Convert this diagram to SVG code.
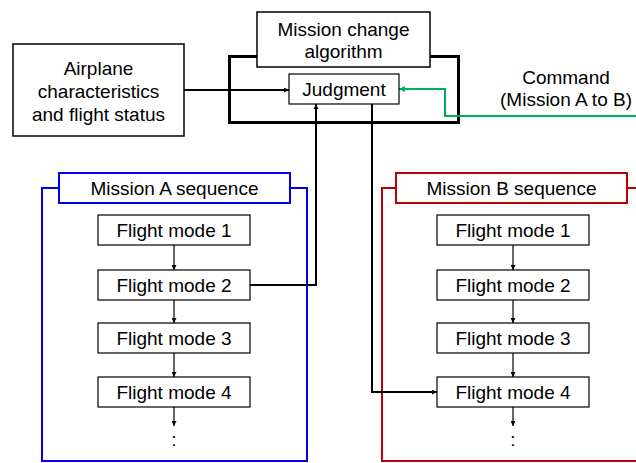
<svg xmlns="http://www.w3.org/2000/svg" width="636" height="463" viewBox="0 0 636 463">
<defs>
<style>
text{font-family:"Liberation Sans",Arial,sans-serif;font-size:19px;fill:#000;text-anchor:middle}
.box{fill:#fff;stroke:#000;stroke-width:1.5}
.fm{fill:#fff;stroke:#000;stroke-width:1.2}
.ln{fill:none;stroke:#000;stroke-width:2}
.thin{fill:none;stroke:#000;stroke-width:1.2}
</style>
<marker id="ah" viewBox="0 0 10 10" refX="10" refY="5" markerWidth="5" markerHeight="5" orient="auto" markerUnits="userSpaceOnUse"><path d="M0,0L10,5L0,10z" fill="#000"/></marker>
<marker id="ahg" viewBox="0 0 10 10" refX="10" refY="5" markerWidth="6" markerHeight="6" orient="auto" markerUnits="userSpaceOnUse"><path d="M0,0L10,5L0,10z" fill="#00b050"/></marker>
</defs>
<rect width="636" height="463" fill="#fff"/>
<g id="algorithm-frame"><rect x="229.5" y="56.5" width="229" height="66" fill="none" stroke="#000" stroke-width="3"/></g>
<g id="mission-a-frame">
<path d="M59,188H42V461H307V188H290" fill="none" stroke="#0000e6" stroke-width="2"/>
<rect x="59" y="173" width="231" height="30" fill="#fff" stroke="#0000e6" stroke-width="2"/>
<text x="174.5" y="195">Mission A sequence</text>
</g>
<g id="mission-b-frame">
<path d="M396,188H382V461H640M627,188H640" fill="none" stroke="#c00000" stroke-width="2"/>
<rect x="396" y="173" width="231" height="30" fill="#fff" stroke="#c00000" stroke-width="2"/>
<text x="511.5" y="195">Mission B sequence</text>
</g>
<g id="connectors">
<path class="ln" d="M184,90H289" marker-end="url(#ah)"/>
<path class="ln" d="M250,285H316V104" marker-end="url(#ah)"/>
<path class="ln" d="M372,104V392H437" marker-end="url(#ah)"/>
<path d="M636,116H445V89H399" fill="none" stroke="#00b050" stroke-width="2" marker-end="url(#ahg)"/>
<path class="thin" d="M174,245V270" marker-end="url(#ah)"/>
<path class="thin" d="M174,300V323" marker-end="url(#ah)"/>
<path class="thin" d="M174,353V377" marker-end="url(#ah)"/>
<path class="thin" d="M174,407V426" marker-end="url(#ah)"/>
<path class="thin" d="M513,245V270" marker-end="url(#ah)"/>
<path class="thin" d="M513,300V323" marker-end="url(#ah)"/>
<path class="thin" d="M513,353V377" marker-end="url(#ah)"/>
<path class="thin" d="M513,407V426" marker-end="url(#ah)"/>
</g>
<g id="airplane"><rect class="box" x="13" y="44" width="171" height="92"/>
<text x="98.5" y="75">Airplane</text><text x="98.5" y="98">characteristics</text><text x="98.5" y="121">and flight status</text></g>
<g id="mission-change-algorithm"><rect class="box" x="257" y="12" width="173" height="55" stroke-width="2"/>
<text x="343.5" y="36">Mission change</text><text x="343.5" y="58">algorithm</text></g>
<g id="judgment"><rect class="fm" x="289" y="74" width="110" height="30"/><text x="344" y="96">Judgment</text></g>
<g id="command"><text x="566" y="84">Command</text><text x="566" y="106">(Mission A to B)</text></g>
<g id="a-fm1"><rect class="fm" x="98" y="215" width="152" height="30"/><text x="174" y="237">Flight mode 1</text></g>
<g id="a-fm2"><rect class="fm" x="98" y="270" width="152" height="30"/><text x="174" y="292">Flight mode 2</text></g>
<g id="a-fm3"><rect class="fm" x="98" y="323" width="152" height="30"/><text x="174" y="345">Flight mode 3</text></g>
<g id="a-fm4"><rect class="fm" x="98" y="377" width="152" height="30"/><text x="174" y="399">Flight mode 4</text></g>
<g id="a-more"><text x="174" y="446" font-size="16">:</text></g>
<g id="b-fm1"><rect class="fm" x="437" y="215" width="152" height="30"/><text x="513" y="237">Flight mode 1</text></g>
<g id="b-fm2"><rect class="fm" x="437" y="270" width="152" height="30"/><text x="513" y="292">Flight mode 2</text></g>
<g id="b-fm3"><rect class="fm" x="437" y="323" width="152" height="30"/><text x="513" y="345">Flight mode 3</text></g>
<g id="b-fm4"><rect class="fm" x="437" y="377" width="152" height="30"/><text x="513" y="399">Flight mode 4</text></g>
<g id="b-more"><text x="513" y="446" font-size="16">:</text></g>
</svg>
